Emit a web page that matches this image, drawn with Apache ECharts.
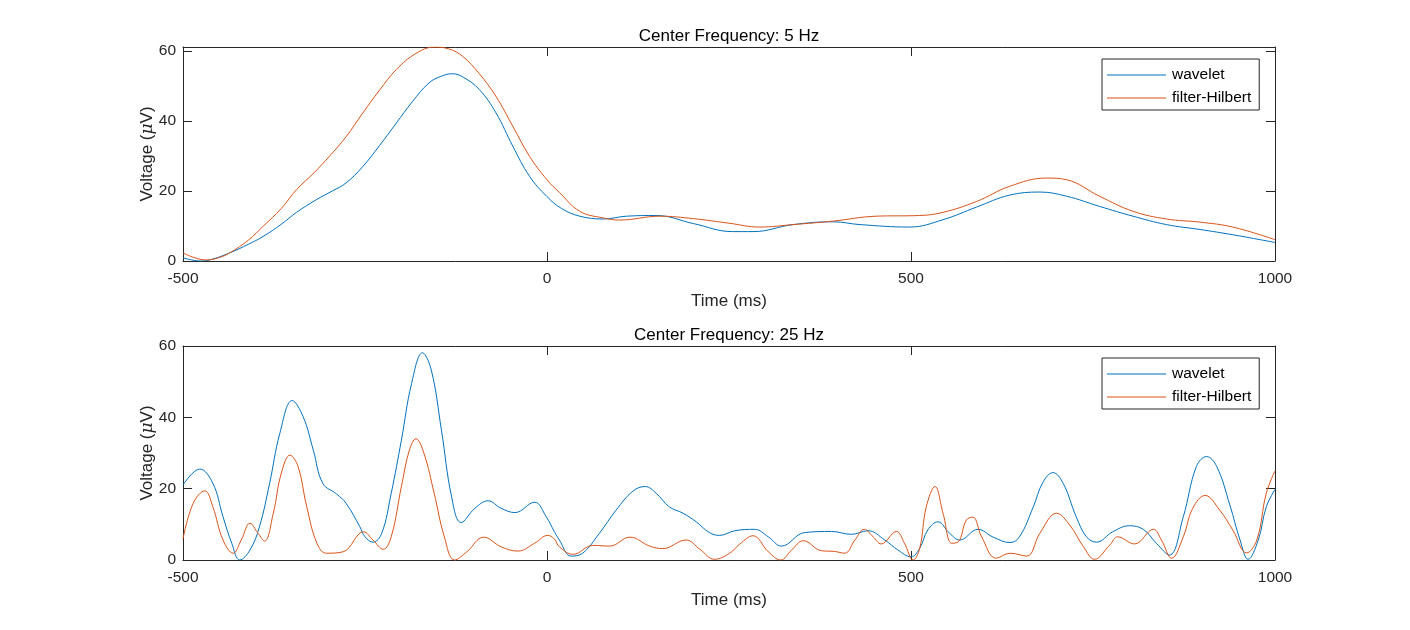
<!DOCTYPE html>
<html>
<head>
<meta charset="utf-8">
<script src="https://cdn.jsdelivr.net/npm/echarts@6/dist/echarts.min.js"></script>
<style>html,body{margin:0;padding:0;background:#fff}#c{width:1410px;height:630px}</style>
</head>
<body>
<div id="c"></div>
<script>
// ---- data ----
const titles = ['Center Frequency: 5 Hz', 'Center Frequency: 25 Hz'];
const seriesNames = ['wavelet', 'filter-Hilbert'];
const xLabel = 'Time (ms)';
const xTicks = [-500, 0, 500, 1000];
const yTicks = [0, 20, 40, 60];

// 5 Hz panel
const t5Wavelet = [-500,-488,-475,-460,-436,-410,-390,-365,-344,-317,-295,-276,-253,-230,-207,-185,-162,-145,-130,-115,-93,-70,-47,-24,0,20,45,77,109,150,201,255,283,338,393,430,498,544,590,635,677,714,759,805,851,897,942,1000];
const v5Wavelet = [0.9,0.3,0,0.5,2.3,4.8,7,10.5,13.9,17.5,20,22.3,27,33,39.4,45.5,50.9,52.8,53.5,52.5,49,42.3,32.8,24.2,18.4,15,12.8,12,12.8,13,10.7,8.4,8.4,10.4,11.2,10.4,9.7,11.8,15.4,18.8,19.7,18.5,15.6,12.8,10.4,9,7.5,5.3];
const t5Hilbert = [-500,-485,-468,-450,-436,-410,-390,-365,-344,-320,-299,-276,-253,-230,-207,-180,-155,-135,-116,-93,-70,-47,-24,0,17,45,77,100,155,201,250,292,338,393,452,512,544,590,635,686,714,759,805,851,897,942,1000];
const v5Hilbert = [2.3,1,0.3,1,2.3,6,9.9,15,20.4,25.2,29.9,35.5,42.3,48.8,54.7,59.3,61.1,60.6,58.5,53.5,47,38.5,29.9,23.2,19.6,14.2,12.3,11.7,12.8,12.1,10.8,9.7,10.4,11.4,12.8,13,13.9,17,21.3,23.7,23.2,18.5,14.2,12,11.1,9.7,6.1];

// 25 Hz panel
const t25Wavelet = [-500,-477,-459,-445,-433,-422,-408,-395,-381,-367,-350,-335,-321,-308,-289,-276,-257,-250,-239,-227,-214,-200,-186,-171,-159,-145,-131,-118,-99,-81,-63,-44,-17,-1,10,17,33,49,72,95,118,135,150,168,187,205,223,237,258,285,304,322,354,391,418,441,464,482,500,512,523,537,553,567,592,613,636,649,668,681,695,709,727,741,755,777,800,819,837,855,874,892,906,920,938,952,963,977,988,1000];
const v25Wavelet = [21,25.5,21.5,12.1,4.7,0,2.8,9.3,21.5,35.5,44.7,40.2,30.8,21.5,18.5,15.9,9.3,6.5,5,7.5,18.7,33.6,49.5,58.1,53.3,36.4,17.7,10.5,14.5,16.6,14.5,13.3,16.2,12.1,8,5.6,1.1,1.9,7.5,14,19.3,20.6,18.7,14.9,13.1,10.7,7.7,6.9,8.2,8.6,6.5,3.9,7.7,8,7.2,8.2,5.6,2.8,0.9,3.3,8.4,10.7,7.5,5.6,8.6,6.4,4.9,6.5,14.9,21.7,24.5,21.5,12.1,6.5,5,7.9,9.6,8.6,4.7,1.4,12.1,26.2,29,26.2,15.4,5.6,0.2,5.6,14.9,19.8];
const t25Hilbert = [-500,-486,-470,-459,-445,-431,-420,-408,-397,-388,-376,-365,-353,-342,-330,-316,-303,-280,-252,-239,-225,-214,-200,-189,-180,-169,-155,-141,-127,-110,-87,-63,-40,-17,1,10,17,36,63,86,114,141,159,191,210,230,251,265,283,304,321,336,352,377,395,409,423,436,448,459,480,491,503,512,521,533,544,556,565,576,585,597,617,636,659,677,700,718,737,752,773,784,807,833,844,858,874,887,904,924,942,961,975,988,1000];
const v25Hilbert = [5.9,15.9,19.4,14.9,5.6,1.9,5.6,10.3,7.5,5.3,13.1,24.3,29.4,26.2,14.9,4.7,1.9,2.3,7.9,5.6,3,6.5,20.6,30.8,34,29.9,18.7,6.5,0,2.3,6.4,3.7,2.5,4.7,6.9,5.9,3.7,1.6,4.1,3.9,6.4,3.9,3.2,5.6,3,0.2,1.9,4.5,6.8,2.3,0,2.8,5.4,2.6,2.4,1.9,5.6,8.6,6.5,4.5,8,4.7,0,3.3,14.9,20.6,13.1,4.7,5.1,11.2,12,6.5,0.5,1.9,1.1,7.5,13.1,9.8,3.7,0.2,4.2,6.5,4.5,8.6,5.6,0.5,6.5,14.5,18.1,14,8.4,2,5.6,18.7,25];

const yMax = [61.14, 60];

// ---- chart ----
const zip = (t, v) => t.map((x, i) => [x, v[i]]);
const AX = '#262626';
const FONT = 'Liberation Sans, Arial, Helvetica, sans-serif';
const colors = ['#0072BD', '#D95319'];
const grids = [
  { left: 183, top: 47, width: 1092, height: 214 },
  { left: 183, top: 346, width: 1092, height: 214 }
];

const xAxes = [], yAxes = [], series = [], titleArr = [], legends = [];
grids.forEach((g, i) => {
  const tickInside = { show: true, inside: true, length: 9, lineStyle: { color: AX, width: 1 } };
  const line = { show: true, onZero: false, lineStyle: { color: AX, width: 1 } };
  xAxes.push({
    type: 'value', gridIndex: i, min: xTicks[0], max: xTicks[xTicks.length - 1], interval: 500,
    position: 'bottom', axisLine: line,
    axisTick: tickInside, splitLine: { show: false },
    axisLabel: { color: AX, fontSize: 15.5, fontFamily: FONT, margin: 10,
      formatter: v => (xTicks.indexOf(v) >= 0 ? String(v) : '') },
    name: xLabel, nameLocation: 'middle', nameGap: 32,
    nameTextStyle: { color: AX, fontSize: 17, fontFamily: FONT }
  });
  xAxes.push({
    type: 'value', gridIndex: i, min: xTicks[0], max: xTicks[xTicks.length - 1], interval: 500,
    position: 'top', axisLine: line,
    axisTick: tickInside, splitLine: { show: false }, axisLabel: { show: false }
  });
  yAxes.push({
    type: 'value', gridIndex: i, min: 0, max: yMax[i], interval: 20,
    position: 'left', axisLine: line,
    axisTick: tickInside, splitLine: { show: false },
    axisLabel: { color: AX, fontSize: 15.5, fontFamily: FONT, margin: 7,
      formatter: v => (yTicks.indexOf(v) >= 0 ? String(v) : '') },
    name: 'Voltage ({mu|μ}V)', nameLocation: 'middle', nameGap: 27, nameRotate: 90,
    nameMoveOverlap: false,
    nameTextStyle: { color: AX, fontSize: 17, fontFamily: FONT,
      rich: { mu: { fontStyle: 'italic', fontSize: 17, color: AX, fontFamily: 'DejaVu Serif, serif' } } }
  });
  yAxes.push({
    type: 'value', gridIndex: i, min: 0, max: yMax[i], interval: 20,
    position: 'right', axisLine: line,
    axisTick: tickInside, splitLine: { show: false }, axisLabel: { show: false }
  });
  titleArr.push({
    text: titles[i], left: g.left + g.width / 2, top: g.top - 19, textAlign: 'center', padding: 0,
    textStyle: { color: '#000', fontSize: 17, fontWeight: 'normal', fontFamily: FONT }
  });
  legends.push({
    data: seriesNames, orient: 'vertical', left: 1102, top: g.top + 12,
    icon: 'rect', itemWidth: 59, itemHeight: 1, itemGap: 7, padding: [8, 8, 4, 5],
    borderColor: AX, borderWidth: 1, backgroundColor: '#fff',
    textStyle: { color: '#000', fontSize: 15.5, fontFamily: FONT, padding: [0, 0, 0, 1] },
    selectedMode: false
  });
});

const panels = [
  [zip(t5Wavelet, v5Wavelet), zip(t5Hilbert, v5Hilbert)],
  [zip(t25Wavelet, v25Wavelet), zip(t25Hilbert, v25Hilbert)]
];
panels.forEach((p, i) => {
  p.forEach((d, k) => {
    series.push({
      type: 'line', name: seriesNames[k], data: d,
      xAxisIndex: i * 2, yAxisIndex: i * 2,
      symbol: 'none', smooth: 0.4, clip: true,
      lineStyle: { color: colors[k], width: 1 }, itemStyle: { color: colors[k] },
      z: 2 + k, silent: true, animation: false
    });
  });
});

const chart = echarts.init(document.getElementById('c'), null, { renderer: 'canvas' });
chart.setOption({
  animation: false,
  color: colors,
  backgroundColor: '#fff',
  title: titleArr,
  legend: legends,
  grid: grids,
  xAxis: xAxes,
  yAxis: yAxes,
  series: series
});
</script>
</body>
</html>
